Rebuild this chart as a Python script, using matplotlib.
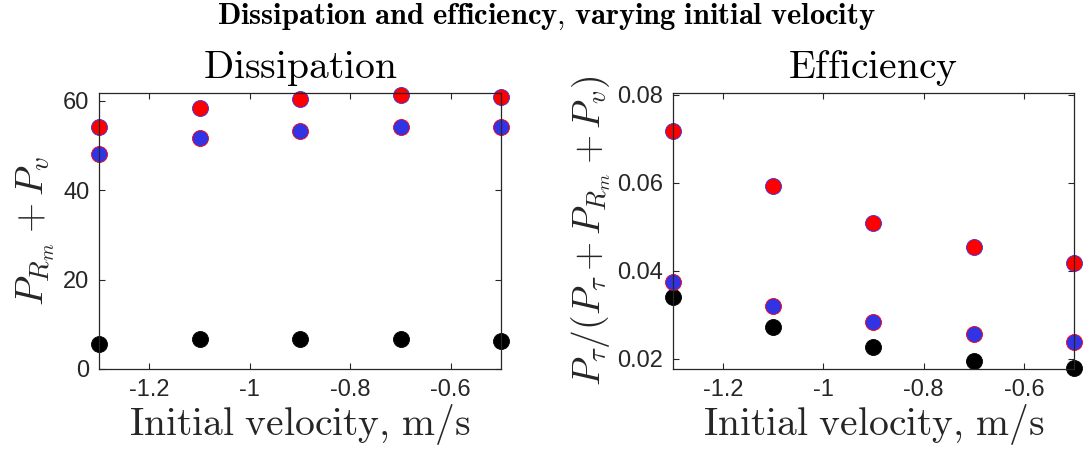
import numpy as np
import matplotlib
matplotlib.use("Agg")
from matplotlib import pyplot as plt

plt.rcParams['mathtext.fontset'] = 'cm'
plt.rcParams['font.family'] = ['Arial', 'Liberation Sans', 'DejaVu Sans']

# initial velocity (m/s)
v0 = [-1.3, -1.1, -0.9, -0.7, -0.5]

# dissipation P_Rm + P_v
diss_red = [54.2, 58.4, 60.5, 61.4, 60.9]
diss_blue = [48.2, 51.6, 53.3, 54.1, 54.2]
diss_black = [5.7, 6.6, 6.8, 6.7, 6.3]

# efficiency P_tau / (P_tau + P_Rm + P_v)
eff_red = [0.0717, 0.0592, 0.0509, 0.0454, 0.0418]
eff_blue = [0.0375, 0.0319, 0.0283, 0.0256, 0.0238]
eff_black = [0.0341, 0.0272, 0.0226, 0.0196, 0.0179]

xticks = [-1.2, -1.0, -0.8, -0.6]
xticklabels = ['-1.2', '-1', '-0.8', '-0.6']

gray = '#262626'
red = '#ff0000'
blue = '#3333e6'

fig = plt.figure(figsize=(10.87, 4.62), dpi=100)
ax1 = fig.add_axes([0.0911, 0.2013, 0.3698, 0.597])
ax2 = fig.add_axes([0.619, 0.2013, 0.369, 0.597])

def draw(ax, red_y, blue_y, black_y):
    ax.plot(v0, black_y, 'o', color='k', markersize=11.5, markeredgewidth=0.6, clip_on=False)
    ax.plot(v0, blue_y, 'o', markerfacecolor=blue, markeredgecolor=red,
            markersize=11.5, markeredgewidth=0.6, clip_on=False)
    ax.plot(v0, red_y, 'o', markerfacecolor=red, markeredgecolor=blue,
            markersize=11.5, markeredgewidth=0.6, clip_on=False)
    ax.set_xlim(-1.3, -0.5)
    ax.set_xticks(xticks)
    ax.set_xticklabels(xticklabels)
    ax.tick_params(direction='in', top=True, right=True, length=4, width=0.8,
                   colors=gray, labelsize=17, pad=7)
    for s in ax.spines.values():
        s.set_color(gray)
        s.set_linewidth(0.9)
    ax.set_xlabel(r'$\mathrm{Initial\ velocity{,}\ m/s}$', fontsize=28.5, color=gray, labelpad=1)

draw(ax1, diss_red, diss_blue, diss_black)
ax1.set_ylim(0, 61.7)
ax1.set_yticks([0, 20, 40, 60])
ax1.set_title(r'$\mathrm{Dissipation}$', fontsize=28.5, pad=11)
ax1.set_ylabel(r'$P_{R_m} + P_v$', fontsize=28, color=gray, labelpad=4)

draw(ax2, eff_red, eff_blue, eff_black)
ax2.set_ylim(0.0177, 0.0803)
ax2.set_yticks([0.02, 0.04, 0.06, 0.08])
ax2.set_yticklabels(['0.02', '0.04', '0.06', '0.08'])
ax2.set_title(r'$\mathrm{Efficiency}$', fontsize=28.5, pad=11)
ax2.set_ylabel(r'$P_\tau/(P_\tau + P_{R_m} + P_v)$', fontsize=27, color=gray, labelpad=3)

fig.suptitle(r'$\mathbf{Dissipation\ and\ efficiency{,}\ varying\ initial\ velocity}$',
             fontsize=22, x=0.503, y=0.997)

fig.savefig('out.png', dpi=100)
